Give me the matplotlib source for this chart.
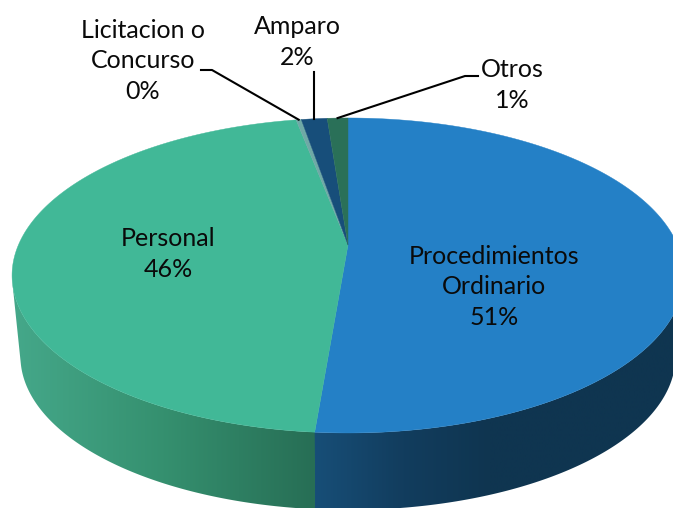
import matplotlib
matplotlib.use("Agg")
import matplotlib.pyplot as plt
import numpy as np
from matplotlib.colors import LinearSegmentedColormap
from matplotlib.patches import PathPatch, Polygon
from matplotlib.path import Path

plt.rcParams['font.family'] = ['Lato', 'DejaVu Sans']

# Data, clockwise from 12 o'clock
categories = ["Procedimientos\nOrdinario", "Personal", "Licitacion o\nConcurso", "Amparo", "Otros"]
values = [51.3, 45.7, 0.3, 1.5, 1.2]
top_colors = ["#2480C6", "#41B897", "#6FA9A6", "#174E7A", "#2A7058"]

# Where the labels sit (pixel coords of the text centre)
label_pos = [(494, 287), (168, 254), (143, 61), (297, 42), (512, 85)]

# Perspective of the disc
cx, cy = 348, 245
k = 0.1935
a = 151.6
b = 329.6
drop = 81.7
shrink = 0.975


def top_xy(theta):
    u, v = np.sin(theta), np.cos(theta)
    w = 1 + k * v
    return cx + b * u / w, cy - a * v / w


def bottom_xy(theta):
    x, y = top_xy(theta)
    return cx + (x - cx) * shrink, cy + drop + (y - cy) * shrink


def signed_area(pts):
    xs, ys = zip(*pts)
    return 0.5 * sum(xs[n] * ys[(n + 1) % 4] - xs[(n + 1) % 4] * ys[n] for n in range(4))


fig = plt.figure(figsize=(6.73, 5.08), dpi=100)
ax = fig.add_axes([0, 0, 1, 1])

edges = np.concatenate([[0], np.cumsum(values)]) / sum(values) * 2 * np.pi

# side wall shading, runs left to right
green_wall = LinearSegmentedColormap.from_list("g", ["#45A88A", "#35906F", "#276E55"])
blue_wall = LinearSegmentedColormap.from_list("b", ["#174E77", "#123D5E", "#0F3550"])

for i, cmap in enumerate([blue_wall, green_wall]):
    # blue runs a little past the seam so no white hairline shows under green
    end = edges[i + 1] + (0.02 if i == 0 else 0)
    th = np.linspace(edges[i], end, 300)
    xt, yt = top_xy(th)
    xb, yb = bottom_xy(th)
    quads = []
    for j in range(len(th) - 1):
        pts = [(xt[j], yt[j]), (xt[j + 1], yt[j + 1]), (xb[j + 1], yb[j + 1]), (xb[j], yb[j])]
        # only quads facing the viewer, the rest sit under the top face
        if signed_area(pts) < 0:
            quads.append(Path(pts + [pts[0]], closed=True))
    if i == 0:
        seam = top_xy(edges[1])[0]
        left, right = seam - 10, 673
        grad = np.clip((np.linspace(left, right, 256) - seam) / (490 - seam), 0, 1)
    else:
        seam = xt[0]
        left, right = 12, seam
        grad = np.linspace(0, 1, 256)
    img = ax.imshow(grad[None, :], cmap=cmap, vmin=0, vmax=1, aspect="auto",
                    extent=(left, right, 520, 100), zorder=1, interpolation="bilinear")
    img.set_clip_path(PathPatch(Path.make_compound_path(*quads), transform=ax.transData))

ax.set_xlim(0, 673)
ax.set_ylim(508, 0)
ax.axis("off")

# top face
for i in range(len(values)):
    th = np.linspace(edges[i], edges[i + 1], 300)
    x, y = top_xy(th)
    pts = [(cx, cy)] + list(zip(x, y))
    ax.add_patch(Polygon(pts, closed=True, facecolor=top_colors[i], edgecolor=top_colors[i], lw=0.3, zorder=2))

# labels
for cat, val, (lx, ly) in zip(categories, values, label_pos):
    ax.text(lx, ly, f"{cat}\n{val:.0f}%", ha="center", va="center", fontsize=18,
            color="#0a0a0a", linespacing=1.42, zorder=4)

# leader lines
mids = (edges[:-1] + edges[1:]) / 2
rx, ry = top_xy(mids)
ax.plot([201, 212, rx[2]], [70, 70, ry[2]], color="black", lw=1.5, zorder=3)
ax.plot([rx[3], rx[3]], [72, ry[3]], color="black", lw=1.5, zorder=3)
ax.plot([478, 465, rx[4]], [76, 76, ry[4]], color="black", lw=1.5, zorder=3)

fig.savefig("out.png", dpi=100)
